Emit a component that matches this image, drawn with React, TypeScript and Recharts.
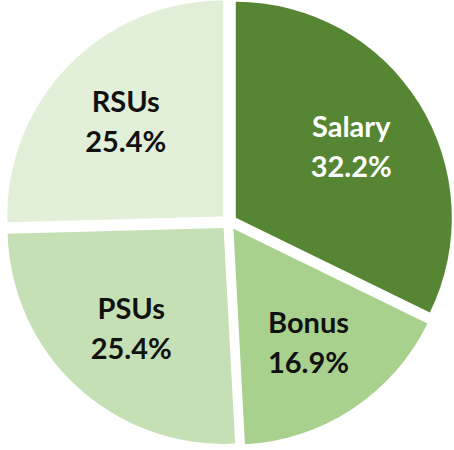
import { Pie, PieChart, Sector, Cell } from "recharts";

// Excel-style exploded pie: compensation mix.
const CATEGORIES = ["Salary", "Bonus", "PSUs", "RSUs"];
const SHARES = [32.2, 16.9, 25.4, 25.4];
const FILLS = ["#568633", "#a9d18e", "#c5e0b4", "#e2f0d9"];
const LABEL_COLORS = ["#ffffff", "#111111", "#111111", "#111111"];

const data = CATEGORIES.map((name, i) => ({ name, value: SHARES[i] }));

const RADIAN = Math.PI / 180;
const EXPLODE = 8;
const FONT = "Lato, 'Open Sans', sans-serif";

function offset(midAngle: number, d: number) {
  return {
    dx: d * Math.cos(-midAngle * RADIAN),
    dy: d * Math.sin(-midAngle * RADIAN),
  };
}

function ExplodedSector(props: any) {
  const { dx, dy } = offset(props.midAngle, EXPLODE);
  return <Sector {...props} cx={props.cx + dx} cy={props.cy + dy} stroke="none" />;
}

function SliceLabel(props: any) {
  const { cx, cy, midAngle, outerRadius, index, name, value } = props;
  const { dx, dy } = offset(midAngle, EXPLODE + outerRadius * 0.63);
  const x = cx + dx;
  const y = cy + dy;
  return (
    <text
      x={x}
      y={y}
      textAnchor="middle"
      fill={LABEL_COLORS[index]}
      fontFamily={FONT}
      fontWeight={700}
      fontSize={29}
    >
      <tspan x={x} dy={-9}>{name}</tspan>
      <tspan x={x} dy={40}>{`${value.toFixed(1)}%`}</tspan>
    </text>
  );
}

export default function App() {
  return (
    <div style={{ position: "absolute", left: 0, top: 0, background: "#fff" }}>
      <PieChart width={454} height={450} margin={{ top: 0, right: 0, bottom: 0, left: 0 }}>
        <Pie
          data={data}
          dataKey="value"
          nameKey="name"
          cx={229}
          cy={222}
          outerRadius={216}
          startAngle={90}
          endAngle={-270}
          stroke="none"
          shape={ExplodedSector}
          label={SliceLabel}
          labelLine={false}
          isAnimationActive={false}
        >
          {data.map((d, i) => (
            <Cell key={d.name} fill={FILLS[i]} />
          ))}
        </Pie>
      </PieChart>
    </div>
  );
}
